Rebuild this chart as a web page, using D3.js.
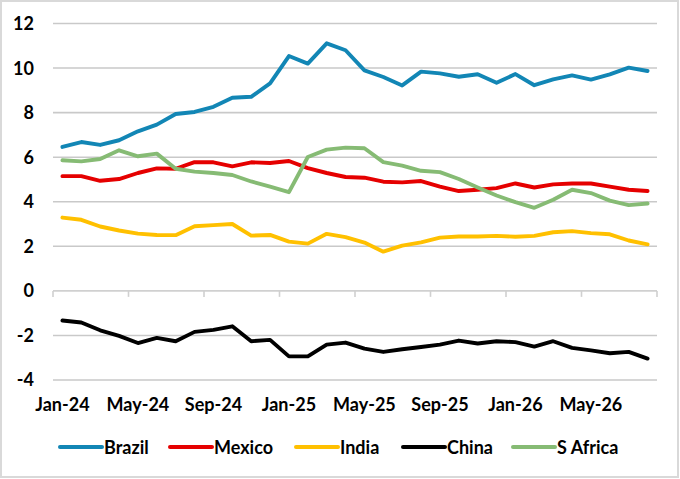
<!DOCTYPE html>
<html>
<head>
<meta charset="utf-8">
<script src="https://cdn.jsdelivr.net/npm/d3@7"></script>
<style>
  html, body { margin: 0; padding: 0; background: #fff; }
  svg { display: block; }
  text { font-family: "Lato", "Open Sans", sans-serif; font-weight: bold; fill: #000; }
</style>
</head>
<body>
<svg id="chart" width="680" height="479"></svg>
<script>
const months = ["Jan-24","Feb-24","Mar-24","Apr-24","May-24","Jun-24","Jul-24","Aug-24","Sep-24","Oct-24","Nov-24","Dec-24",
  "Jan-25","Feb-25","Mar-25","Apr-25","May-25","Jun-25","Jul-25","Aug-25","Sep-25","Oct-25","Nov-25","Dec-25",
  "Jan-26","Feb-26","Mar-26","Apr-26","May-26","Jun-26","Jul-26","Aug-26"];

const brazil  = [6.46,6.68,6.55,6.76,7.16,7.46,7.94,8.03,8.26,8.67,8.71,9.31,10.54,10.2,11.11,10.8,9.9,9.6,9.22,9.84,9.76,9.61,9.72,9.34,9.73,9.23,9.49,9.67,9.48,9.72,10.02,9.87];
const mexico  = [5.15,5.15,4.94,5.02,5.29,5.5,5.48,5.78,5.77,5.59,5.77,5.74,5.83,5.51,5.29,5.11,5.08,4.9,4.87,4.93,4.68,4.48,4.54,4.61,4.82,4.64,4.78,4.82,4.82,4.68,4.54,4.48];
const india   = [3.29,3.19,2.89,2.71,2.57,2.51,2.5,2.9,2.95,3.0,2.48,2.51,2.21,2.12,2.56,2.41,2.17,1.76,2.03,2.18,2.39,2.44,2.44,2.47,2.43,2.47,2.63,2.68,2.59,2.54,2.26,2.09];
const china   = [-1.33,-1.42,-1.77,-2.02,-2.34,-2.11,-2.26,-1.84,-1.75,-1.59,-2.26,-2.2,-2.94,-2.94,-2.41,-2.32,-2.59,-2.74,-2.62,-2.52,-2.41,-2.23,-2.36,-2.26,-2.3,-2.5,-2.26,-2.56,-2.67,-2.8,-2.74,-3.04];
const safrica = [5.86,5.81,5.92,6.31,6.04,6.16,5.48,5.35,5.29,5.2,4.91,4.68,4.43,6.01,6.34,6.43,6.4,5.78,5.62,5.39,5.33,5.02,4.64,4.28,3.98,3.73,4.09,4.54,4.39,4.05,3.85,3.92];

const seriesNames  = ["Brazil","Mexico","India","China","S Africa"];
const seriesValues = [brazil, mexico, india, china, safrica];
const seriesColors = ["#1286b5","#e50000","#ffc000","#000000","#86bb74"];
const yTicks = [-4,-2,0,2,4,6,8,10,12];
const xLabelEvery = 4;

const svg = d3.select("#chart");

// outer border
svg.append("rect").attr("x",1).attr("y",1).attr("width",677).attr("height",476)
  .attr("fill","#fff").attr("stroke","#d9d9d9").attr("stroke-width",2);

const x = d3.scaleBand().domain(months).range([53, 657]).padding(0);
const y = d3.scaleLinear().domain([-4, 12]).range([380, 23.5]);

// gridlines
svg.append("g").selectAll("line").data(yTicks.filter(v => v !== 0)).join("line")
  .attr("x1", 53).attr("x2", 657)
  .attr("y1", d => y(d)).attr("y2", d => y(d))
  .attr("stroke", "#c9c9c9").attr("stroke-width", 1.6);

// y labels
svg.append("g").selectAll("text").data(yTicks).join("text")
  .attr("x", 34).attr("y", d => y(d)).attr("dy", "0.36em")
  .attr("text-anchor", "end").attr("font-size", 18)
  .text(d => d);

// x axis at zero with tick marks at band boundaries
const axisG = svg.append("g");
axisG.append("line").attr("x1",53).attr("x2",657).attr("y1",y(0)).attr("y2",y(0))
  .attr("stroke","#d0d0d0").attr("stroke-width",1.6);
const tickIdx = d3.range(0, months.length + 1, xLabelEvery);
axisG.selectAll("line.tk").data(tickIdx).join("line").attr("class","tk")
  .attr("x1", i => i < months.length ? x(months[i]) : x.range()[1])
  .attr("x2", i => i < months.length ? x(months[i]) : x.range()[1])
  .attr("y1", y(0)).attr("y2", y(0) + 6)
  .attr("stroke","#d0d0d0").attr("stroke-width",1.6);

// x labels at bottom
svg.append("g").selectAll("text").data(months.filter((m,i) => i % xLabelEvery === 0)).join("text")
  .attr("x", d => x(d) + x.bandwidth()/2).attr("y", 411)
  .attr("text-anchor","middle").attr("font-size",18)
  .text(d => d);

// lines
const line = d3.line().x((d,i) => x(months[i]) + x.bandwidth()/2).y(d => y(d));
seriesValues.forEach((vals, k) => {
  svg.append("path").datum(vals).attr("d", line)
    .attr("fill","none").attr("stroke", seriesColors[k]).attr("stroke-width", 3.9)
    .attr("stroke-linejoin","round").attr("stroke-linecap","round");
});

// legend
const legendX = [60, 170, 296, 403, 513];
const legG = svg.append("g");
seriesNames.forEach((n, k) => {
  legG.append("line").attr("x1", legendX[k]).attr("x2", legendX[k] + 42)
    .attr("y1", 447).attr("y2", 447)
    .attr("stroke", seriesColors[k]).attr("stroke-width", 4).attr("stroke-linecap","round");
  legG.append("text").attr("x", legendX[k] + 44).attr("y", 454)
    .attr("font-size", 18).text(n);
});
</script>
</body>
</html>
